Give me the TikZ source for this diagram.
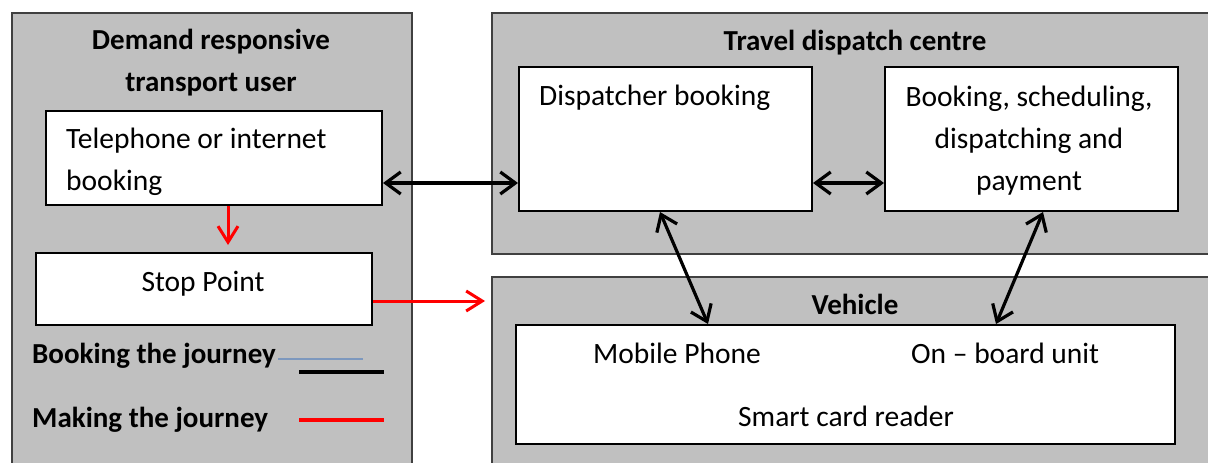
\documentclass[tikz,border=0pt]{standalone}
\usepackage{fontspec}
\setmainfont{Carlito}
\usepackage{tikz}
\usetikzlibrary{arrows.meta}

\definecolor{panelgray}{RGB}{192,192,192}
\definecolor{legendblue}{RGB}{125,152,190}

\begin{document}
\begin{tikzpicture}[x=1pt,y=-1pt,
	every node/.style={font=\fontsize{29.5}{42}\selectfont, inner sep=0pt},
	panel/.style={draw=black!75, fill=panelgray, line width=1.5pt, anchor=north west},
	box/.style={draw=black, fill=white, line width=2pt, anchor=north west},
	heading/.style={font=\fontsize{29}{42}\selectfont\bfseries},
	booking/.style={draw=black, line width=3.2pt, >={Straight Barb[length=15pt,width=22pt]}, <->},
	journey/.style={draw=red, line width=3pt, >={Straight Barb[length=16pt,width=20pt]}, ->}]
	\useasboundingbox (0,0) rectangle (1208,463);
	\clip (0,0) rectangle (1208,463);

	% the three grey areas
	\node[panel, minimum width=400, minimum height=470] (user)     at (11, 12)  {};
	\node[panel, minimum width=720, minimum height=241] (centre)   at (491, 12) {};
	\node[panel, minimum width=720, minimum height=200] (vehicle)  at (491, 276) {};

	% white boxes
	\node[box, minimum width=336, minimum height=94]  (phone)   at (45, 110)  {};
	\node[box, minimum width=336, minimum height=72]  (stop)    at (35, 252)  {};
	\node[box, minimum width=293, minimum height=144] (disp)    at (518, 66)  {};
	\node[box, minimum width=293, minimum height=144] (sched)   at (884, 66)  {};
	\node[box, minimum width=659, minimum height=119] (onboard) at (515, 324) {};

	% texts
	\node[heading, align=center] (usertitle) at (211, 63) {Demand responsive\\transport user};
	\node[heading, anchor=base] (centretitle) at (855, 50) {Travel dispatch centre};
	\node[heading, anchor=base] (vehicletitle) at (855, 314) {Vehicle};
	\node[align=left, anchor=west] (phonetext) at (66, 162) {Telephone or internet\\booking};
	\node[anchor=base] (stoptext) at (203, 291) {Stop Point};
	\node[anchor=base west] (disptext) at (539, 105) {Dispatcher booking};
	\node[align=center] (schedtext) at (1029, 141) {Booking, scheduling,\\dispatching and\\payment};
	\node[anchor=base west] (mobile) at (593, 363) {Mobile Phone};
	\node[anchor=base west] (obu) at (911, 363) {On -- board unit};
	\node[anchor=base west] (smart) at (738, 426) {Smart card reader};

	% legend
	\node[heading, anchor=base west] (bookkey) at (32, 363) {Booking the journey};
	\node[heading, anchor=base west] (makekey) at (32, 427) {Making the journey};
	\coordinate (blue1) at (278, 359);
	\coordinate (blue2) at (363, 359);
	\coordinate (black1) at (299, 372);
	\coordinate (black2) at (384, 372);
	\coordinate (red1) at (299, 420);
	\coordinate (red2) at (384, 420);
	\draw[legendblue, line width=1.5pt] (blue1) -- (blue2);
	\draw[black, line width=4.7pt] (black1) -- (black2);
	\draw[red, line width=4.7pt] (red1) -- (red2);

	% booking links
	\draw[booking] ([yshift=-25pt]phone.east) -- ([yshift=-25pt]phone.east -| disp.west);
	\draw[booking] ([yshift=-44pt]disp.east) -- ([yshift=-44pt]disp.east -| sched.west);
	\draw[booking] ([xshift=142pt]disp.south west) -- ([xshift=193pt]onboard.north west);
	\draw[booking] ([xshift=159pt]sched.south west) -- ([xshift=481pt]onboard.north west);

	% journey links
	\draw[journey, shorten >=7pt] ([xshift=14pt]phone.south) -- ([xshift=14pt]phone.south |- stop.north);
	\draw[journey, shorten >=6pt] ([yshift=-12pt]stop.east) -- ([yshift=-12pt]stop.east -| vehicle.west);
\end{tikzpicture}
\end{document}
